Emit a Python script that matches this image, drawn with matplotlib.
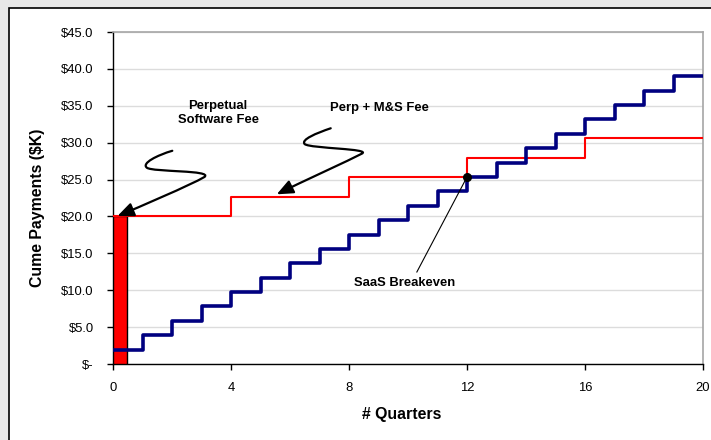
import matplotlib.pyplot as plt
from matplotlib.patches import Rectangle, FancyArrowPatch
from matplotlib.path import Path
from matplotlib.ticker import FuncFormatter

plt.rcParams['font.family'] = ['Liberation Sans', 'DejaVu Sans']

# cumulative payments ($K) per quarter
quarters = list(range(0, 21))
saas_cume = [1.95, 3.9, 5.85, 7.8, 9.75, 11.7, 13.65, 15.6, 17.55, 19.5,
             21.45, 23.4, 25.35, 27.3, 29.25, 31.2, 33.15, 35.1, 37.05, 39.0]
perp_years = [0, 4, 8, 12, 16, 20]
perp_cume = [20.0, 22.65, 25.3, 27.95, 30.6]
perp_fee = 20.0
breakeven_q = 12
breakeven_val = 25.35

fig = plt.figure(figsize=(7.11, 4.4), dpi=100)
fig.patch.set_facecolor('#e8e8e8')
fig.patches.append(Rectangle((9 / 711, -0.05), 1.0, 1 - 8 / 440 + 0.05,
                             transform=fig.transFigure, facecolor='white',
                             edgecolor='black', linewidth=1.2, zorder=-5))

ax = fig.add_axes([113 / 711, 76 / 440, 590 / 711, 332 / 440])
ax.set_zorder(2)
ax.set_facecolor('white')

# one-time perpetual license bar
ax.bar([0], [perp_fee], width=0.47, align='edge', color='#ff0000',
       edgecolor='black', linewidth=1, zorder=3)

ax.step(perp_years, perp_cume + [perp_cume[-1]], where='post',
        color='#ff0000', linewidth=1.5, zorder=4)
ax.step(quarters, saas_cume + [saas_cume[-1]], where='post',
        color='#000080', linewidth=2.6, zorder=4)

ax.set_xlim(0, 20)
ax.set_ylim(0, 45)
ax.set_xticks([0, 4, 8, 12, 16, 20])
ax.set_yticks(range(0, 50, 5))
ax.yaxis.set_major_formatter(FuncFormatter(lambda v, p: '$-' if v == 0 else f'${v:.1f}'))
ax.tick_params(axis='both', direction='out', length=4, width=1, labelsize=9.4,
               colors='black')
ax.tick_params(axis='y', pad=10)
ax.tick_params(axis='x', pad=9)
ax.grid(axis='y', color='#dcdcdc', linewidth=1)
ax.set_axisbelow(True)
for s in ['top', 'right']:
    ax.spines[s].set_color('#a6a6a6')
    ax.spines[s].set_linewidth(1.2)
for s in ['left', 'bottom']:
    ax.spines[s].set_color('black')
    ax.spines[s].set_linewidth(1)

ax.set_xlabel('# Quarters', fontsize=11.4, fontweight='bold')
ax.set_ylabel('Cume Payments ($K)', fontsize=11.4, fontweight='bold')
ax.xaxis.set_label_coords(0.49, -0.13)
ax.yaxis.set_label_coords(-0.115, 0.47)

# labels
ax.text(3.56, 34.0, 'Perpetual\nSoftware Fee', ha='center', va='center',
        fontsize=9.4, fontweight='bold', linespacing=1.15)
ax.text(9.02, 34.7, 'Perp + M&S Fee', ha='center', va='center',
        fontsize=9.4, fontweight='bold')
ax.text(9.88, 11.0, 'SaaS Breakeven', ha='center', va='center',
        fontsize=9.4, fontweight='bold')

# squiggly pointer arrows
C4 = Path.CURVE4
squiggles = [
    [(2.01, 28.9), (1.5, 28.3), (0.95, 27.2), (1.15, 26.6),
     (1.35, 26.0), (3.4, 26.3), (3.1, 25.35),
     (2.6, 24.2), (0.9, 21.3), (0.15, 20.05)],
    [(7.38, 31.95), (6.9, 31.3), (6.35, 30.4), (6.5, 29.8),
     (6.7, 29.2), (8.8, 29.2), (8.43, 28.5),
     (8.0, 27.6), (6.3, 24.5), (5.55, 23.0)],
]
for pts in squiggles:
    codes = [Path.MOVETO] + [C4] * (len(pts) - 1)
    arr = FancyArrowPatch(path=Path(pts, codes),
                          arrowstyle='-|>,head_length=0.7,head_width=0.3',
                          mutation_scale=14, color='black', linewidth=1.6,
                          zorder=6)
    ax.add_patch(arr)

# breakeven marker and leader
ax.plot([10.3, breakeven_q], [12.47, breakeven_val], color='black',
        linewidth=0.8, zorder=5)
ax.plot([breakeven_q], [breakeven_val], 'o', color='black', markersize=5.5,
        zorder=6)

fig.savefig('out.png', dpi=100, facecolor=fig.get_facecolor())
